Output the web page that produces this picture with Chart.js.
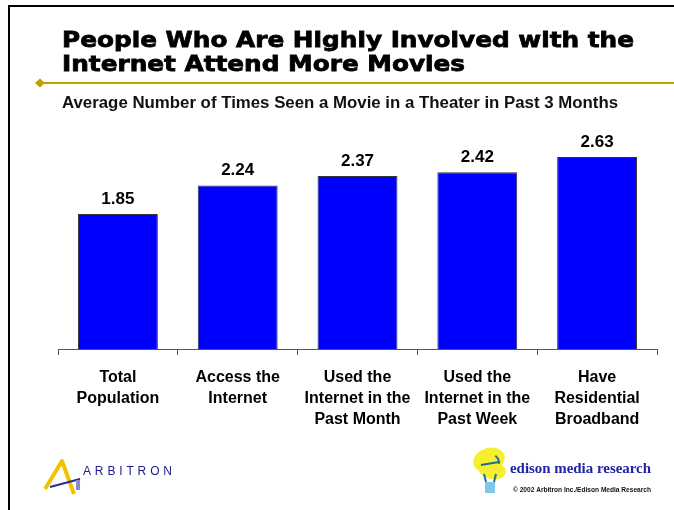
<!DOCTYPE html>
<html lang="en">
<head>
    <meta charset="UTF-8">
    <title>People Who Are Highly Involved with the Internet Attend More Movies</title>
    <style>
        body { margin: 0; background: #fff; }
        canvas { display: block; }
    </style>
</head>
<body>
    <canvas id="movieChart" width="674" height="510"></canvas>

    <script src="https://cdn.jsdelivr.net/npm/chart.js"></script>
    <script>
        const categories = [
            ['Total', 'Population'],
            ['Access the', 'Internet'],
            ['Used the', 'Internet in the', 'Past Month'],
            ['Used the', 'Internet in the', 'Past Week'],
            ['Have', 'Residential', 'Broadband']
        ];
        const timesSeen = [1.85, 2.24, 2.37, 2.42, 2.63];

        const titleLines = ['People Who Are Highly Involved with the', 'Internet Attend More Movies'];
        const subtitle = 'Average Number of Times Seen a Movie in a Theater in Past 3 Months';

        // draws text squeezed/stretched to a given width
        function fitText(ctx, text, x, y, width) {
            const w = ctx.measureText(text).width;
            ctx.save();
            ctx.translate(x, y);
            ctx.scale(width / w, 1);
            ctx.fillText(text, 0, 0);
            ctx.restore();
        }

        // spreads letters evenly over a width
        function spacedText(ctx, text, x, y, width) {
            const chars = text.split('');
            const total = chars.reduce((s, c) => s + ctx.measureText(c).width, 0);
            const gap = (width - total) / (chars.length - 1);
            let cx = x;
            chars.forEach(c => {
                ctx.fillText(c, cx, y);
                cx += ctx.measureText(c).width + gap;
            });
        }

        const decorations = {
            id: 'decorations',
            afterDraw(chart) {
                const ctx = chart.ctx;
                ctx.save();

                // frame
                ctx.fillStyle = '#000';
                ctx.fillRect(8, 5, 666, 2);
                ctx.fillRect(8, 5, 2, 505);

                // title
                ctx.textAlign = 'left';
                ctx.textBaseline = 'alphabetic';
                ctx.font = 'bold 22px "DejaVu Sans", sans-serif';
                ctx.fillStyle = '#000';
                ctx.strokeStyle = '#000';
                ctx.lineWidth = 0.8;
                const scaleX = 572 / ctx.measureText(titleLines[0]).width;
                titleLines.forEach((line, i) => {
                    ctx.save();
                    ctx.translate(62, 47 + i * 24);
                    ctx.scale(scaleX, 1);
                    ctx.fillText(line, 0, 0);
                    ctx.strokeText(line, 0, 0);
                    ctx.restore();
                });

                // gold rule with diamond
                ctx.strokeStyle = '#C0A000';
                ctx.lineWidth = 2;
                ctx.beginPath();
                ctx.moveTo(40, 83);
                ctx.lineTo(674, 83);
                ctx.stroke();
                ctx.fillStyle = '#C0A000';
                ctx.beginPath();
                ctx.moveTo(35, 83);
                ctx.lineTo(40, 78.5);
                ctx.lineTo(45, 83);
                ctx.lineTo(40, 87.5);
                ctx.closePath();
                ctx.fill();

                // subtitle
                ctx.fillStyle = '#111';
                ctx.font = 'bold 16px "Liberation Sans", Arial, sans-serif';
                fitText(ctx, subtitle, 62, 108, 556);

                // value labels
                ctx.fillStyle = '#000';
                ctx.textAlign = 'center';
                ctx.font = 'bold 17px "Liberation Sans", Arial, sans-serif';
                chart.getDatasetMeta(0).data.forEach((bar, i) => {
                    ctx.fillText(timesSeen[i].toFixed(2), bar.x, bar.y - 10);
                });

                // Arbitron logo
                ctx.textAlign = 'left';
                ctx.lineJoin = 'round';
                ctx.strokeStyle = '#F2C200';
                ctx.lineWidth = 4;
                ctx.beginPath();
                ctx.moveTo(45, 489);
                ctx.lineTo(62, 461);
                ctx.lineTo(74, 494);
                ctx.stroke();
                ctx.strokeStyle = '#2A2A9A';
                ctx.lineWidth = 2;
                ctx.beginPath();
                ctx.moveTo(50, 487);
                ctx.lineTo(80, 479);
                ctx.stroke();
                ctx.fillStyle = '#8A8ACC';
                ctx.fillRect(76, 480, 4, 10);
                ctx.fillStyle = '#1C1C8C';
                ctx.font = '500 12px "Liberation Sans", Arial, sans-serif';
                spacedText(ctx, 'ARBITRON', 83, 475, 89);

                // Edison logo
                ctx.fillStyle = '#F6EE30';
                ctx.beginPath();
                ctx.ellipse(489, 460, 16, 12, -0.3, 0, Math.PI * 2);
                ctx.fill();
                ctx.beginPath();
                ctx.ellipse(492, 470, 14, 9, 0.2, 0, Math.PI * 2);
                ctx.fill();
                ctx.strokeStyle = '#1D6F8A';
                ctx.lineWidth = 2;
                ctx.beginPath();
                ctx.moveTo(481, 465);
                ctx.lineTo(499, 462);
                ctx.arc(490, 463, 9, 0, Math.PI * 1.7, true);
                ctx.stroke();
                ctx.beginPath();
                ctx.moveTo(484, 474);
                ctx.lineTo(486, 482);
                ctx.moveTo(496, 474);
                ctx.lineTo(494, 482);
                ctx.stroke();
                ctx.fillStyle = '#7FC8E8';
                ctx.fillRect(485, 482, 10, 11);
                ctx.fillStyle = '#2222A8';
                ctx.font = 'bold 15px "Liberation Serif", "Times New Roman", serif';
                fitText(ctx, 'edison media research', 510, 473, 141);
                ctx.fillStyle = '#111';
                ctx.font = 'bold 7px "Liberation Sans", Arial, sans-serif';
                fitText(ctx, '\u00A9 2002 Arbitron Inc./Edison Media Research', 513, 492, 138);

                ctx.restore();
            }
        };

        const ctx = document.getElementById('movieChart').getContext('2d');

        new Chart(ctx, {
            type: 'bar',
            data: {
                labels: categories,
                datasets: [{
                    data: timesSeen,
                    backgroundColor: '#0000FF',
                    borderColor: '#333333',
                    borderWidth: 1,
                    categoryPercentage: 1,
                    barPercentage: 0.667
                }]
            },
            options: {
                responsive: false,
                animation: false,
                layout: {
                    padding: { top: 130, left: 58, right: 17, bottom: 0 }
                },
                plugins: {
                    legend: { display: false },
                    tooltip: { enabled: false }
                },
                scales: {
                    y: {
                        display: false,
                        min: 0,
                        max: 3
                    },
                    x: {
                        afterFit(scale) { scale.height = 161; },
                        grid: {
                            offset: true,
                            drawOnChartArea: false,
                            tickLength: 6,
                            color: '#555'
                        },
                        border: { color: '#555', width: 1 },
                        ticks: {
                            color: '#000',
                            padding: 12,
                            font: { family: '"Liberation Sans", Arial, sans-serif', size: 16, weight: 'bold', lineHeight: 1.3125 }
                        }
                    }
                }
            },
            plugins: [decorations]
        });
    </script>
</body>
</html>
